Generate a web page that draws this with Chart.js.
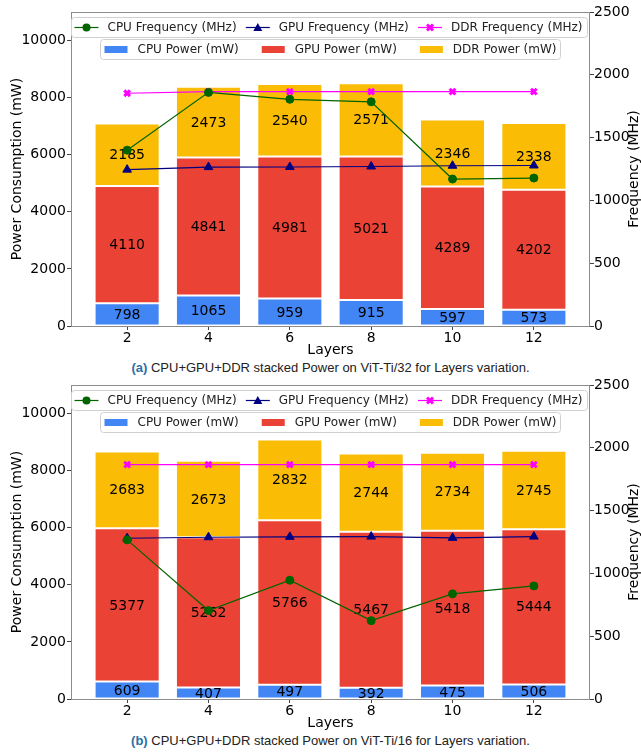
<!DOCTYPE html>
<html>
<head>
<meta charset="utf-8">
<script src="https://cdn.jsdelivr.net/npm/chart.js@4.4.1/dist/chart.umd.min.js"></script>
<style>
  html, body { margin: 0; padding: 0; background: #fff; }
  #wrap { position: relative; width: 641px; height: 754px; overflow: hidden; }
  canvas { position: absolute; left: 0; }
  .cap {
    position: absolute; left: 71px; width: 519px; text-align: center;
    font-family: "Liberation Sans", Arial, sans-serif; font-size: 13px;
    line-height: 16px; color: #222; white-space: nowrap;
  }
  .cap b { color: #2b6fa6; }
</style>
</head>
<body>
<div id="wrap">
  <canvas id="chartA" width="641" height="360" style="top:0px"></canvas>
  <div class="cap" style="top:360px"><b>(a)</b> CPU+GPU+DDR stacked Power on ViT-Ti/32 for Layers variation.</div>
  <canvas id="chartB" width="641" height="360" style="top:373px"></canvas>
  <div class="cap" style="top:733px"><b>(b)</b> CPU+GPU+DDR stacked Power on ViT-Ti/16 for Layers variation.</div>
</div>
<script>
// Number of transformer layers on the x axis
const layers = [2, 4, 6, 8, 10, 12];

// ViT-Ti/32 measurements
const cpuPowerA = [798, 1065, 959, 915, 597, 573];
const gpuPowerA = [4110, 4841, 4981, 5021, 4289, 4202];
const ddrPowerA = [2185, 2473, 2540, 2571, 2346, 2338];
const cpuFreqA  = [1400, 1860, 1805, 1785, 1170, 1178];
const gpuFreqA  = [1245, 1265, 1266, 1270, 1276, 1278];
const ddrFreqA  = [1853, 1866, 1866, 1866, 1866, 1866];

// ViT-Ti/16 measurements
const cpuPowerB = [609, 407, 497, 392, 475, 506];
const gpuPowerB = [5377, 5262, 5766, 5467, 5418, 5444];
const ddrPowerB = [2683, 2673, 2832, 2744, 2734, 2745];
const cpuFreqB  = [1267, 704, 946, 624, 837, 900];
const gpuFreqB  = [1280, 1288, 1291, 1293, 1283, 1293];
const ddrFreqB  = [1866, 1866, 1866, 1866, 1866, 1866];

// Axis ticks
const powerTicks = [0, 2000, 4000, 6000, 8000, 10000];
const freqTicks  = [0, 500, 1000, 1500, 2000, 2500];

const FONT = '"DejaVu Sans", Verdana, sans-serif';
const COLORS = {
  cpuPower: '#4285F4', gpuPower: '#EA4335', ddrPower: '#FBBC05',
  cpuFreq: '#006400', gpuFreq: '#000080', ddrFreq: '#FF00FF'
};

const lineLegend = [
  { text: 'CPU Frequency (MHz)', color: COLORS.cpuFreq, style: 'circle' },
  { text: 'GPU Frequency (MHz)', color: COLORS.gpuFreq, style: 'triangle' },
  { text: 'DDR Frequency (MHz)', color: COLORS.ddrFreq, style: 'crossRot' }
];
const barLegend = [
  { text: 'CPU Power (mW)', color: COLORS.cpuPower },
  { text: 'GPU Power (mW)', color: COLORS.gpuPower },
  { text: 'DDR Power (mW)', color: COLORS.ddrPower }
];

function roundRect(ctx, x, y, w, h, r) {
  ctx.beginPath();
  ctx.moveTo(x + r, y);
  ctx.lineTo(x + w - r, y); ctx.arcTo(x + w, y, x + w, y + r, r);
  ctx.lineTo(x + w, y + h - r); ctx.arcTo(x + w, y + h, x + w - r, y + h, r);
  ctx.lineTo(x + r, y + h); ctx.arcTo(x, y + h, x, y + h - r, r);
  ctx.lineTo(x, y + r); ctx.arcTo(x, y, x + r, y, r);
  ctx.closePath();
}

function drawMarker(ctx, style, x, y, color) {
  ctx.save();
  ctx.fillStyle = color; ctx.strokeStyle = color;
  if (style === 'circle') {
    ctx.beginPath(); ctx.arc(x, y, 4, 0, Math.PI * 2); ctx.fill();
  } else if (style === 'triangle') {
    ctx.beginPath(); ctx.moveTo(x, y - 4.5); ctx.lineTo(x + 4.5, y + 3.5); ctx.lineTo(x - 4.5, y + 3.5);
    ctx.closePath(); ctx.fill();
  } else {
    ctx.lineWidth = 3;
    ctx.beginPath();
    ctx.moveTo(x - 3, y - 3); ctx.lineTo(x + 3, y + 3);
    ctx.moveTo(x + 3, y - 3); ctx.lineTo(x - 3, y + 3);
    ctx.stroke();
  }
  ctx.restore();
}

// Segment labels, frame, right-hand axis title and the two legends
const decorations = {
  id: 'decorations',
  afterDatasetDraw(chart, args) {
    const ds = chart.data.datasets[args.index];
    if (ds.type !== 'bar') return;
    const ctx = chart.ctx;
    ctx.save();
    ctx.font = '14px ' + FONT;
    ctx.fillStyle = '#000';
    ctx.textAlign = 'center';
    ctx.textBaseline = 'middle';
    args.meta.data.forEach((bar, i) => {
      const p = bar.getProps(['x', 'y', 'base'], true);
      ctx.fillText(String(ds.data[i]), p.x, (p.y + p.base) / 2 + 1);
    });
    ctx.restore();
  },
  afterDraw(chart) {
    const ctx = chart.ctx;
    const a = chart.chartArea;
    ctx.save();
    // frame
    ctx.strokeStyle = '#8c8c8c';
    ctx.lineWidth = 1;
    ctx.strokeRect(Math.round(a.left) + 0.5, Math.round(a.top) + 0.5,
                   Math.round(a.right - a.left) - 1, Math.round(a.bottom - a.top));

    // right axis title, reading bottom to top
    ctx.save();
    ctx.translate(chart.width - 7, (a.top + a.bottom) / 2);
    ctx.rotate(-Math.PI / 2);
    ctx.font = '14px ' + FONT;
    ctx.fillStyle = '#000';
    ctx.textAlign = 'center';
    ctx.textBaseline = 'middle';
    ctx.fillText('Frequency (MHz)', 0, 0);
    ctx.restore();

    ctx.font = '12px ' + FONT;
    ctx.textBaseline = 'middle';

    // line legend, expanded across the plot width
    const b1x = a.left + 0.5, b1y = a.top + 5.5, b1w = a.right - a.left - 3, b1h = 20;
    ctx.fillStyle = 'rgba(255,255,255,0.8)';
    ctx.strokeStyle = '#d0d0d0';
    roundRect(ctx, b1x, b1y, b1w, b1h, 3); ctx.fill(); ctx.stroke();
    const handle = 24, gap = 9;
    const widths = lineLegend.map(it => handle + gap + ctx.measureText(it.text).width);
    const inner = b1w - 3 - 5;
    const sep = (inner - widths.reduce((s, w) => s + w, 0)) / (lineLegend.length - 1);
    let cx = b1x + 3;
    const ly = b1y + b1h / 2;
    lineLegend.forEach((it, i) => {
      ctx.strokeStyle = it.color; ctx.lineWidth = 1.2;
      ctx.beginPath(); ctx.moveTo(cx, ly); ctx.lineTo(cx + handle, ly); ctx.stroke();
      drawMarker(ctx, it.style, cx + handle / 2, ly, it.color);
      ctx.fillStyle = '#222'; ctx.textAlign = 'left';
      ctx.fillText(it.text, cx + handle + gap, ly + 0.5);
      cx += widths[i] + sep;
    });

    // bar legend, centred under it
    const patchW = 23, patchH = 7, pgap = 10, colGap = 23, pad = 4;
    const tw = barLegend.map(it => ctx.measureText(it.text).width);
    const b2w = pad * 2 + barLegend.length * (patchW + pgap) + tw.reduce((s, w) => s + w, 0) + colGap * (barLegend.length - 1);
    const b2x = Math.round((a.left + a.right) / 2 - b2w / 2) + 0.5, b2y = a.top + 27.5, b2h = 20;
    ctx.fillStyle = 'rgba(255,255,255,0.8)';
    ctx.strokeStyle = '#d0d0d0'; ctx.lineWidth = 1;
    roundRect(ctx, b2x, b2y, b2w, b2h, 3); ctx.fill(); ctx.stroke();
    let px = b2x + pad;
    const py = b2y + b2h / 2;
    barLegend.forEach((it, i) => {
      ctx.fillStyle = it.color;
      ctx.fillRect(px, py - patchH / 2, patchW, patchH);
      ctx.fillStyle = '#222'; ctx.textAlign = 'left';
      ctx.fillText(it.text, px + patchW + pgap, py + 0.5);
      px += patchW + pgap + tw[i] + colGap;
    });
    ctx.restore();
  }
};

function makeChart(id, cpuP, gpuP, ddrP, cpuF, gpuF, ddrF) {
  const barDs = (label, data, color) => ({
    type: 'bar', label, data, yAxisID: 'y', order: 1,
    backgroundColor: color, borderColor: 'rgba(255,255,255,0.3)', borderWidth: 1,
    borderSkipped: false, barPercentage: 0.8, categoryPercentage: 1.0
  });
  const lineDs = (label, data, color, style, radius, bw) => ({
    type: 'line', label, data, yAxisID: 'y1', order: 0,
    borderColor: color, backgroundColor: color, borderWidth: 1.2,
    pointStyle: style, pointRadius: radius, pointBorderWidth: bw,
    pointBackgroundColor: color, pointBorderColor: color, tension: 0, fill: false
  });
  const tickFont = { family: FONT, size: 14 };
  const tickGrid = { drawOnChartArea: false, drawTicks: true, tickLength: 4, color: '#444', offset: false };

  return new Chart(document.getElementById(id), {
    data: {
      labels: layers,
      datasets: [
        barDs('CPU Power (mW)', cpuP, COLORS.cpuPower),
        barDs('GPU Power (mW)', gpuP, COLORS.gpuPower),
        barDs('DDR Power (mW)', ddrP, COLORS.ddrPower),
        lineDs('CPU Frequency (MHz)', cpuF, COLORS.cpuFreq, 'circle', 4, 1),
        lineDs('GPU Frequency (MHz)', gpuF, COLORS.gpuFreq, 'triangle', 5, 1),
        lineDs('DDR Frequency (MHz)', ddrF, COLORS.ddrFreq, 'crossRot', 4, 3)
      ]
    },
    options: {
      responsive: false, animation: false, devicePixelRatio: 1,
      layout: { padding: { top: 12, left: 0, right: 0, bottom: 0 } },
      plugins: { legend: { display: false }, tooltip: { enabled: false } },
      scales: {
        x: {
          type: 'linear', stacked: true, offset: false, min: 0.62, max: 13.38,
          afterBuildTicks: s => { s.ticks = layers.map(v => ({ value: v })); },
          afterFit: s => { s.height = 34; },
          ticks: { font: tickFont, color: '#000', padding: 0, maxRotation: 0,
                   callback: v => String(v) },
          grid: tickGrid, border: { display: false },
          title: { display: true, text: 'Layers', font: tickFont, color: '#000',
                   padding: { top: 0, bottom: 1 } }
        },
        y: {
          type: 'linear', position: 'left', stacked: true, min: 0, max: 11000,
          afterBuildTicks: s => { s.ticks = powerTicks.map(v => ({ value: v })); },
          afterFit: s => { s.width = 71; },
          ticks: { font: tickFont, color: '#000', padding: 1, callback: v => String(v) },
          grid: tickGrid, border: { display: false },
          title: { display: true, text: 'Power Consumption (mW)', font: tickFont, color: '#000',
                   padding: { top: 9, bottom: 0 } }
        },
        y1: {
          type: 'linear', position: 'right', stacked: false, min: 0, max: 2500,
          afterBuildTicks: s => { s.ticks = freqTicks.map(v => ({ value: v })); },
          afterFit: s => { s.width = 51; },
          ticks: { font: tickFont, color: '#000', padding: 0, callback: v => String(v) },
          grid: tickGrid, border: { display: false },
          title: { display: false }
        }
      }
    },
    plugins: [decorations]
  });
}

makeChart('chartA', cpuPowerA, gpuPowerA, ddrPowerA, cpuFreqA, gpuFreqA, ddrFreqA);
makeChart('chartB', cpuPowerB, gpuPowerB, ddrPowerB, cpuFreqB, gpuFreqB, ddrFreqB);
</script>
</body>
</html>
